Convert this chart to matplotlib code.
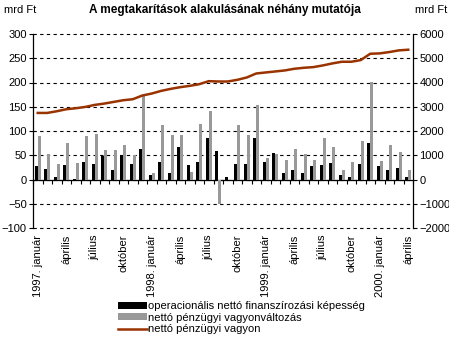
import matplotlib
matplotlib.use("Agg")
import matplotlib.pyplot as plt
import matplotlib.transforms as mtransforms
import numpy as np

plt.rcParams['font.family'] = ['Liberation Sans', 'DejaVu Sans']

# monthly data, 1997 jan - 2000 apr
months = ["január", "február", "március", "április", "május", "június",
          "július", "augusztus", "szeptember", "október", "november", "december"]
tick_text = []
for y in range(1997, 2001):
    for i, m in enumerate(months):
        tick_text.append(f"{y}. {m}" if i == 0 else m)
tick_text = tick_text[:40]

operacionalis = [27, 21, 5, 30, 1, 37, 31, 48, 19, 50, 31, 62,
                 10, 37, 14, 66, 29, 37, 86, 58, 6, 31, 31, 86,
                 37, 54, 14, 19, 14, 28, 30, 33, 10, 6, 31, 76,
                 28, 19, 23, 6]
vagyonvaltozas = [89, 52, 31, 75, 34, 90, 93, 60, 60, 71, 50, 172,
                  14, 112, 91, 91, 16, 114, 141, -50, 0, 112, 91, 153,
                  45, 52, 41, 63, 53, 41, 86, 66, 19, 37, 79, 201,
                  39, 72, 56, 19]
vagyon = [2745, 2745, 2814, 2897, 2938, 2993, 3076, 3131, 3200, 3269, 3310, 3462,
          3545, 3655, 3738, 3807, 3862, 3931, 4055, 4041, 4041, 4110, 4207, 4372,
          4414, 4455, 4497, 4566, 4607, 4634, 4703, 4786, 4855, 4855, 4924, 5186,
          5200, 5255, 5324, 5352]

x = np.arange(len(operacionalis))

fig = plt.figure(figsize=(4.49, 3.37), dpi=100)
ax = fig.add_axes([33 / 449, 1 - 228 / 337, 380 / 449, 194 / 337])
ax2 = ax.twinx()

w = 0.32
ax.bar(x - w / 2, operacionalis, w, color='black', label='operacionális nettó finanszírozási képesség', zorder=3)
ax.bar(x + w / 2, vagyonvaltozas, w, color='#999999', label='nettó pénzügyi vagyonváltozás', zorder=3)
ax2.plot(x, vagyon, color='#993300', lw=1.8, label='nettó pénzügyi vagyon')

ax.set_xlim(-0.5, len(x) - 0.5)
ax.set_ylim(-100, 300)
ax.set_yticks(np.arange(-100, 301, 50))
ax2.set_ylim(-2000, 6000)
ax2.set_yticks(np.arange(-2000, 6001, 1000))

for a in (ax, ax2):
    a.spines['top'].set_visible(False)
    a.tick_params(axis='y', labelsize=8, length=3, width=0.8, pad=1.5)
ax.spines['left'].set_linewidth(0.9)
ax2.spines['right'].set_linewidth(0.9)
ax2.spines['bottom'].set_visible(False)
ax2.spines['left'].set_visible(False)
ax.spines['right'].set_visible(False)

# category axis at zero
ax.spines['bottom'].set_position(('data', 0))
ax.spines['bottom'].set_linewidth(0.9)
ax.set_xticks(np.arange(-0.5, len(x), 1.0))
ax.set_xticklabels([])
ax.tick_params(axis='x', length=3, width=0.8, direction='out')

ax.grid(axis='y', color='black', linestyle=(0, (3, 3)), linewidth=0.8, zorder=1)
ax.set_axisbelow(True)
for gl in ax.get_ygridlines():
    gl.set_clip_on(False)

trans = mtransforms.blended_transform_factory(ax.transData, ax.transAxes)
for i in range(0, len(x), 3):
    ax.text(x[i], -0.035, tick_text[i], transform=trans, rotation=90,
            ha='center', va='top', fontsize=8)

fig.text(0.5, 0.97, "A megtakarítások alakulásának néhány mutatója",
         ha='center', va='center', fontsize=8.5, fontweight='bold')
fig.text(4 / 449, 0.97, "mrd Ft", ha='left', va='center', fontsize=8)
fig.text(415 / 449, 0.97, "mrd Ft", ha='left', va='center', fontsize=8)

h1, l1 = ax.get_legend_handles_labels()
h2, l2 = ax2.get_legend_handles_labels()
fig.legend(h1 + h2, l1 + l2, loc='upper left', bbox_to_anchor=(118 / 449, 1 - 301 / 337),
           frameon=False, fontsize=8, handlelength=2.6, handleheight=0.6,
           handletextpad=0.1, labelspacing=0.15, borderpad=0, borderaxespad=0)

fig.savefig("out.png", dpi=100)
